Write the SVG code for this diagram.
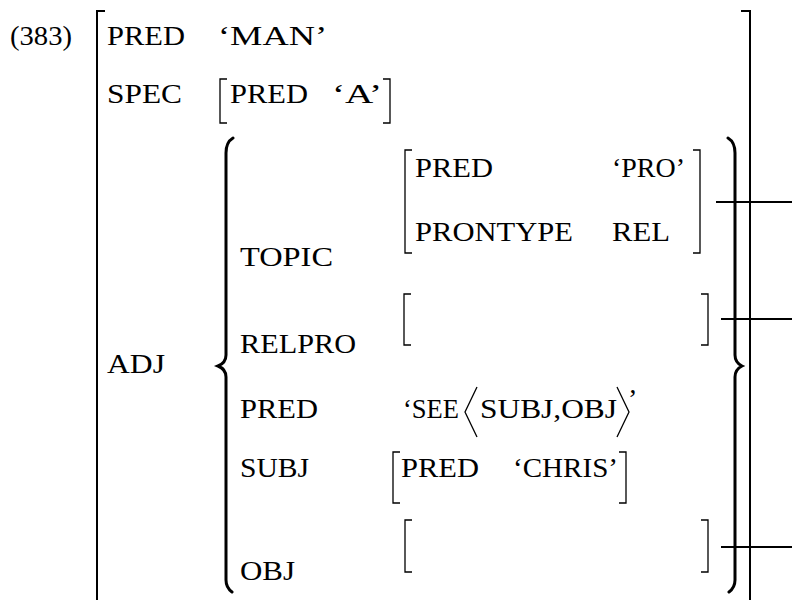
<svg xmlns="http://www.w3.org/2000/svg" width="792" height="600" viewBox="0 0 792 600">
  <style>
    text { font-family: "Liberation Serif", "Times New Roman", serif; font-size: 28px; fill: #000; }
    .br { fill: none; stroke: #000; stroke-width: 1.3; }
    .outer { fill: none; stroke: #000; stroke-width: 2; }
    .brace { fill: none; stroke: #000; stroke-width: 3; stroke-linecap: round; }
    .link { stroke: #000; stroke-width: 2; }
  </style>
  <rect width="792" height="600" fill="#fff"/>

  <text x="10" y="45" textLength="62" lengthAdjust="spacingAndGlyphs">(383)</text>

  <!-- outer f-structure -->
  <g id="fs-outer">
    <path class="outer" d="M105,11 H97 V600"/>
    <path class="outer" d="M741,11 H750 V600"/>
    <text x="107" y="45" textLength="78" lengthAdjust="spacingAndGlyphs">PRED</text>
    <text x="218" y="45" textLength="109" lengthAdjust="spacingAndGlyphs">‘MAN’</text>
    <text x="107" y="103" textLength="75" lengthAdjust="spacingAndGlyphs">SPEC</text>
    <text x="107" y="373" textLength="58" lengthAdjust="spacingAndGlyphs">ADJ</text>
  </g>

  <!-- SPEC value -->
  <g id="fs-spec">
    <path class="br" d="M227,79 H220 V123 H227"/>
    <path class="br" d="M383,79 H390 V123 H383"/>
    <text x="230" y="103" textLength="78" lengthAdjust="spacingAndGlyphs">PRED</text>
    <text x="332" y="103" textLength="50" lengthAdjust="spacingAndGlyphs">‘A’</text>
  </g>

  <!-- ADJ set braces -->
  <g id="adj-set">
    <path class="brace" d="M233,138 C228,141 226,146 226,153 L226,355 C226,361 223,364 218,366 C223,368 226,371 226,377 L226,580 C226,586 228,589 232,592"/>
    <path class="brace" d="M728,138 C733,141 735,146 735,153 L735,355 C735,361 738,364 742,366 C738,368 735,371 735,377 L735,580 C735,586 733,589 729,592"/>
  </g>

  <!-- relative clause f-structure -->
  <g id="fs-adj">
    <text x="240" y="266" textLength="93" lengthAdjust="spacingAndGlyphs">TOPIC</text>
    <text x="240" y="353" textLength="116" lengthAdjust="spacingAndGlyphs">RELPRO</text>
    <text x="240" y="418" textLength="78" lengthAdjust="spacingAndGlyphs">PRED</text>
    <text x="240" y="477" textLength="69" lengthAdjust="spacingAndGlyphs">SUBJ</text>
    <text x="240" y="580" textLength="55" lengthAdjust="spacingAndGlyphs">OBJ</text>
    <text x="403" y="418" textLength="56" lengthAdjust="spacingAndGlyphs">‘SEE</text>
    <path class="br" d="M477,387 L465,412 L477,437"/>
    <text x="480" y="418" textLength="137" lengthAdjust="spacingAndGlyphs">SUBJ,OBJ</text>
    <path class="br" d="M617,387 L629,412 L617,437"/>
    <text x="628" y="408">’</text>
  </g>

  <!-- TOPIC value -->
  <g id="fs-topic">
    <path class="br" d="M412,150 H405 V253 H412"/>
    <path class="br" d="M693,150 H700 V253 H693"/>
    <text x="415" y="177" textLength="78" lengthAdjust="spacingAndGlyphs">PRED</text>
    <text x="612" y="177" textLength="73" lengthAdjust="spacingAndGlyphs">‘PRO’</text>
    <text x="415" y="241" textLength="158" lengthAdjust="spacingAndGlyphs">PRONTYPE</text>
    <text x="612" y="241" textLength="58" lengthAdjust="spacingAndGlyphs">REL</text>
  </g>

  <!-- RELPRO value -->
  <g id="fs-relpro">
    <path class="br" d="M411,294 H404 V345 H411"/>
    <path class="br" d="M701,294 H708 V345 H701"/>
  </g>

  <!-- SUBJ value -->
  <g id="fs-subj">
    <path class="br" d="M400,452 H393 V503 H400"/>
    <path class="br" d="M619,452 H626 V503 H619"/>
    <text x="401" y="477" textLength="78" lengthAdjust="spacingAndGlyphs">PRED</text>
    <text x="513" y="477" textLength="105" lengthAdjust="spacingAndGlyphs">‘CHRIS’</text>
  </g>

  <!-- OBJ value -->
  <g id="fs-obj">
    <path class="br" d="M412,520 H405 V572 H412"/>
    <path class="br" d="M701,520 H708 V572 H701"/>
  </g>

  <!-- structure-sharing lines -->
  <g id="connectors">
    <line class="link" x1="716" y1="202" x2="792" y2="202"/>
    <line class="link" x1="721" y1="319" x2="792" y2="319"/>
    <line class="link" x1="721" y1="547" x2="792" y2="547"/>
  </g>
</svg>
